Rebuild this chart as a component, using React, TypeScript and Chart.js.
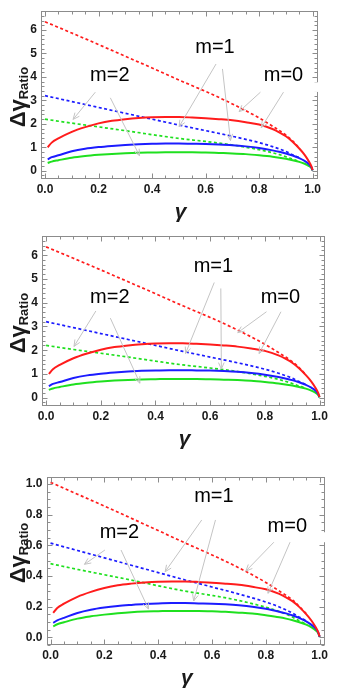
import React, { useEffect, useRef } from "react";
import { Chart, registerables } from "chart.js";
Chart.register(...registerables);

// ---------- data ----------
const GAMMA_SOLID = [0.01, 0.025, 0.05, 0.1, 0.15, 0.2, 0.25, 0.3, 0.35, 0.4, 0.45, 0.5, 0.55, 0.6, 0.65, 0.7, 0.75, 0.8, 0.85, 0.875, 0.9, 0.925, 0.95, 0.97, 0.985, 0.995, 1.0];
const GAMMA_DASHED = [0, 0.1, 0.2, 0.3, 0.4, 0.5, 0.6, 0.7, 0.8, 0.85, 0.9, 0.925, 0.95];

// panels 1 and 2
const RED_SOLID_A = [1.0, 1.2, 1.38, 1.66, 1.86, 2.02, 2.13, 2.2, 2.25, 2.28, 2.29, 2.29, 2.27, 2.24, 2.2, 2.15, 2.07, 1.97, 1.78, 1.64, 1.47, 1.24, 0.95, 0.68, 0.42, 0.2, 0.03];
const BLUE_SOLID_A = [0.49, 0.58, 0.66, 0.83, 0.94, 1.01, 1.06, 1.1, 1.13, 1.15, 1.16, 1.16, 1.15, 1.14, 1.12, 1.09, 1.04, 0.97, 0.87, 0.81, 0.74, 0.65, 0.54, 0.42, 0.3, 0.16, 0.02];
const GREEN_SOLID_A = [0.33, 0.39, 0.45, 0.56, 0.63, 0.68, 0.72, 0.75, 0.77, 0.78, 0.79, 0.79, 0.79, 0.78, 0.76, 0.74, 0.71, 0.66, 0.6, 0.56, 0.51, 0.45, 0.38, 0.3, 0.21, 0.12, 0.01];
const RED_DASHED_A = [6.35, 5.87, 5.38, 4.88, 4.38, 3.87, 3.38, 2.85, 2.25, 1.9, 1.52, 1.27, 0.97];
const BLUE_DASHED_A = [3.2, 2.95, 2.7, 2.45, 2.2, 1.95, 1.71, 1.47, 1.2, 1.03, 0.82, 0.68, 0.56];
const GREEN_DASHED_A = [2.2, 2.03, 1.87, 1.71, 1.54, 1.38, 1.25, 1.1, 0.9, 0.77, 0.6, 0.49, 0.4];

// panel 3
const RED_SOLID_B = [0.159, 0.191, 0.219, 0.264, 0.296, 0.321, 0.339, 0.35, 0.358, 0.363, 0.364, 0.364, 0.361, 0.356, 0.35, 0.342, 0.329, 0.313, 0.283, 0.261, 0.234, 0.197, 0.151, 0.108, 0.067, 0.032, 0.005];
const BLUE_SOLID_B = [0.094, 0.111, 0.127, 0.159, 0.18, 0.194, 0.204, 0.211, 0.217, 0.221, 0.223, 0.223, 0.221, 0.219, 0.215, 0.209, 0.2, 0.186, 0.167, 0.156, 0.142, 0.125, 0.104, 0.081, 0.058, 0.031, 0.004];
const GREEN_SOLID_B = [0.072, 0.085, 0.098, 0.122, 0.137, 0.148, 0.157, 0.164, 0.168, 0.17, 0.172, 0.172, 0.172, 0.17, 0.166, 0.161, 0.155, 0.144, 0.131, 0.122, 0.111, 0.098, 0.083, 0.065, 0.046, 0.026, 0.002];
const RED_DASHED_B = [1.01, 0.933, 0.855, 0.776, 0.696, 0.615, 0.537, 0.453, 0.358, 0.302, 0.242, 0.2, 0.154];
const BLUE_DASHED_B = [0.614, 0.566, 0.518, 0.47, 0.422, 0.374, 0.328, 0.282, 0.23, 0.198, 0.157, 0.131, 0.108];
const GREEN_DASHED_B = [0.48, 0.443, 0.408, 0.373, 0.336, 0.301, 0.273, 0.24, 0.196, 0.168, 0.131, 0.107, 0.087];

// ticks
const X_TICKS = [0, 0.2, 0.4, 0.6, 0.8, 1.0];
const X_TICK_LABELS = ["0.0", "0.2", "0.4", "0.6", "0.8", "1.0"];
const Y_TICKS_A = [0, 1, 2, 3, 4, 5, 6];
const Y_TICK_LABELS_A = ["0", "1", "2", "3", "4", "5", "6"];
const Y_TICKS_B = [0, 0.2, 0.4, 0.6, 0.8, 1.0];
const Y_TICK_LABELS_B = ["0.0", "0.2", "0.4", "0.6", "0.8", "1.0"];

// annotations: [text, x, y]
const LABELS_1 = [["m=1", 0.635, 5.25], ["m=2", 0.242, 4.07], ["m=0", 0.891, 4.07]];
const LABELS_2 = [["m=1", 0.612, 5.53], ["m=2", 0.233, 4.22], ["m=0", 0.857, 4.24]];
const LABELS_3 = [["m=1", 0.607, 0.917], ["m=2", 0.256, 0.685], ["m=0", 0.88, 0.721]];
// arrows: [x1, y1, x2, y2]
const ARROWS_1 = [[0.188, 3.35, 0.105, 2.19], [0.244, 3.11, 0.353, 0.645], [0.639, 4.55, 0.501, 1.88], [0.663, 4.34, 0.693, 1.29], [0.805, 3.35, 0.725, 2.52], [0.891, 3.35, 0.808, 1.84]];
const ARROWS_2 = [[0.182, 3.65, 0.102, 2.16], [0.235, 3.35, 0.343, 0.61], [0.615, 4.85, 0.51, 1.86], [0.639, 4.6, 0.641, 1.21], [0.806, 3.62, 0.701, 2.74], [0.859, 3.62, 0.779, 1.86]];
const ARROWS_3 = [[0.202, 0.569, 0.126, 0.476], [0.262, 0.569, 0.364, 0.185], [0.562, 0.765, 0.426, 0.428], [0.613, 0.765, 0.532, 0.237], [0.83, 0.62, 0.726, 0.432], [0.89, 0.62, 0.808, 0.287]];
// gaps in right frame edge (y-range)
const GAP_1 = [3.36, 3.77];
const GAP_3 = [0.62, 0.685];

const RED = "#ff1c1c";
const BLUE = "#1c1cff";
const GREEN = "#1fe01f";
const FONT = "'Liberation Sans', Arial, sans-serif";

type Spec = {
  top: number; height: number;
  left: number; right: number; areaTop: number; areaBottom: number;
  yMin: number; yMax: number; yTicks: number[]; yLabels: string[]; yMinor: number;
  series: number[][]; labels: any[]; arrows: number[][]; gap: number[] | null;
  yTitleShift: number;
};

function makeDecor(spec: Spec) {
  return {
    id: "decor",
    afterDraw(chart: any) {
      const ctx = chart.ctx as CanvasRenderingContext2D;
      const a = chart.chartArea;
      const xs = chart.scales.x;
      const ys = chart.scales.y;
      const L = Math.round(a.left) + 0.5, R = Math.round(a.right) - 0.5;
      const T = Math.round(a.top) + 0.5, B = Math.round(a.bottom) - 0.5;
      ctx.save();
      // frame
      ctx.strokeStyle = "#8c8c8c";
      ctx.lineWidth = 1;
      ctx.strokeRect(L, T, R - L, B - T);
      // ticks
      ctx.beginPath();
      const xMinorStep = 0.05;
      for (let k = Math.ceil(xs.min / xMinorStep); k * xMinorStep <= xs.max + 1e-9; k++) {
        const v = k * xMinorStep;
        const major = Math.abs(v / 0.2 - Math.round(v / 0.2)) < 1e-6;
        const len = major ? 5 : 3;
        const px = Math.round(xs.getPixelForValue(v)) + 0.5;
        ctx.moveTo(px, B); ctx.lineTo(px, B - len);
        ctx.moveTo(px, T); ctx.lineTo(px, T + len);
      }
      const yMajor = spec.yTicks[1] - spec.yTicks[0];
      for (let k = Math.ceil(ys.min / spec.yMinor); k * spec.yMinor <= ys.max + 1e-9; k++) {
        const v = k * spec.yMinor;
        const major = Math.abs(v / yMajor - Math.round(v / yMajor)) < 1e-6;
        const len = major ? 5 : 3;
        const py = Math.round(ys.getPixelForValue(v)) + 0.5;
        ctx.moveTo(L, py); ctx.lineTo(L + len, py);
        ctx.moveTo(R, py); ctx.lineTo(R - len, py);
      }
      ctx.stroke();
      if (spec.gap) {
        const g1 = ys.getPixelForValue(spec.gap[1]);
        const g2 = ys.getPixelForValue(spec.gap[0]);
        ctx.fillStyle = "#ffffff";
        ctx.fillRect(R - 6, g1, 10, g2 - g1);
      }
      // arrows
      ctx.strokeStyle = "#c4c4c4";
      ctx.lineWidth = 1;
      for (const [x1, y1, x2, y2] of spec.arrows) {
        const p1x = xs.getPixelForValue(x1), p1y = ys.getPixelForValue(y1);
        const p2x = xs.getPixelForValue(x2), p2y = ys.getPixelForValue(y2);
        const ang = Math.atan2(p2y - p1y, p2x - p1x);
        ctx.beginPath();
        ctx.moveTo(p1x, p1y); ctx.lineTo(p2x, p2y);
        const hl = 7, ha = 0.42;
        ctx.moveTo(p2x - hl * Math.cos(ang - ha), p2y - hl * Math.sin(ang - ha));
        ctx.lineTo(p2x, p2y);
        ctx.lineTo(p2x - hl * Math.cos(ang + ha), p2y - hl * Math.sin(ang + ha));
        ctx.stroke();
      }
      // labels
      ctx.fillStyle = "#000";
      ctx.font = `20px ${FONT}`;
      ctx.textAlign = "center";
      ctx.textBaseline = "middle";
      for (const [t, x, y] of spec.labels) {
        ctx.fillText(t, xs.getPixelForValue(x), ys.getPixelForValue(y));
      }
      // x title
      ctx.font = `italic bold 21px ${FONT}`;
      ctx.textBaseline = "alphabetic";
      ctx.fillStyle = "#1a1a1a";
      ctx.fillText("γ", (a.left + a.right) / 2 + 1, a.bottom + 39);
      // y title
      const cy = (a.top + a.bottom) / 2 + spec.yTitleShift;
      ctx.translate(25, cy);
      ctx.rotate(-Math.PI / 2);
      ctx.font = `bold 22px ${FONT}`;
      const w1 = ctx.measureText("Δγ").width;
      ctx.font = `bold 13px ${FONT}`;
      const w2 = ctx.measureText("Ratio").width;
      const start = -(w1 + w2) / 2;
      ctx.textAlign = "left";
      ctx.font = `bold 22px ${FONT}`;
      ctx.fillText("Δγ", start, 0);
      ctx.font = `bold 13px ${FONT}`;
      ctx.fillText("Ratio", start + w1, 3);
      ctx.restore();
    },
  };
}

function Panel({ spec }: { spec: Spec }) {
  const ref = useRef<HTMLCanvasElement | null>(null);
  useEffect(() => {
    const canvas = ref.current!;
    const [rs, bs, gs, rd, bd, gd] = spec.series;
    const solid = (arr: number[], c: string) => ({
      data: GAMMA_SOLID.map((g, i) => ({ x: g, y: arr[i] })),
      borderColor: c, borderWidth: 2, pointRadius: 0, fill: false,
      cubicInterpolationMode: "monotone" as const,
    });
    const dashed = (arr: number[], c: string) => ({
      data: GAMMA_DASHED.map((g, i) => ({ x: g, y: arr[i] })),
      borderColor: c, borderWidth: 1.7, pointRadius: 0, fill: false,
      borderDash: [3, 2.5], cubicInterpolationMode: "monotone" as const,
    });
    const W = 349;
    const chart = new Chart(canvas, {
      type: "line",
      data: {
        datasets: [solid(rs, RED), solid(bs, BLUE), solid(gs, GREEN), dashed(rd, RED), dashed(bd, BLUE), dashed(gd, GREEN)],
      },
      options: {
        responsive: false,
        animation: false,
        events: [],
        layout: { padding: { left: 0, right: W - spec.right, top: spec.areaTop, bottom: 0 } },
        plugins: { legend: { display: false }, tooltip: { enabled: false } },
        scales: {
          x: {
            type: "linear", min: -0.015, max: 1.02,
            grid: { display: false, drawTicks: false, tickLength: 0 }, border: { display: false },
            ticks: {
              autoSkip: false, maxRotation: 0, padding: 3, color: "#1a1a1a",
              font: { family: FONT, size: 12, weight: "bold" },
              callback: (_v: any, i: number) => X_TICK_LABELS[i],
            },
            afterBuildTicks: (s: any) => { s.ticks = X_TICKS.map((v) => ({ value: v })); },
            afterFit: (s: any) => { s.height = spec.height - spec.areaBottom; },
          },
          y: {
            type: "linear", min: spec.yMin, max: spec.yMax,
            grid: { display: false, drawTicks: false, tickLength: 0 }, border: { display: false },
            ticks: {
              autoSkip: false, padding: 4, color: "#1a1a1a",
              font: { family: FONT, size: 12, weight: "bold" },
              callback: (_v: any, i: number) => spec.yLabels[i],
            },
            afterBuildTicks: (s: any) => { s.ticks = spec.yTicks.map((v) => ({ value: v })); },
            afterFit: (s: any) => { s.width = spec.left; },
          },
        },
      } as any,
      plugins: [makeDecor(spec)],
    });
    return () => chart.destroy();
  }, [spec]);
  return (
    <canvas
      ref={ref}
      width={349}
      height={spec.height}
      style={{ position: "absolute", left: 0, top: spec.top, width: 349, height: spec.height }}
    />
  );
}

const SPECS: Spec[] = [
  {
    top: 0, height: 225, left: 41, right: 318, areaTop: 5, areaBottom: 179,
    yMin: -0.35, yMax: 6.8, yTicks: Y_TICKS_A, yLabels: Y_TICK_LABELS_A, yMinor: 0.2,
    series: [RED_SOLID_A, BLUE_SOLID_A, GREEN_SOLID_A, RED_DASHED_A, BLUE_DASHED_A, GREEN_DASHED_A],
    labels: LABELS_1, arrows: ARROWS_1, gap: GAP_1, yTitleShift: 2,
  },
  {
    top: 225, height: 230, left: 42, right: 325, areaTop: 5, areaBottom: 181,
    yMin: -0.35, yMax: 6.8, yTicks: Y_TICKS_A, yLabels: Y_TICK_LABELS_A, yMinor: 0.2,
    series: [RED_SOLID_A, BLUE_SOLID_A, GREEN_SOLID_A, RED_DASHED_A, BLUE_DASHED_A, GREEN_DASHED_A],
    labels: LABELS_2, arrows: ARROWS_2, gap: null, yTitleShift: 2,
  },
  {
    top: 455, height: 234, left: 46.5, right: 325, areaTop: 22, areaBottom: 190,
    yMin: -0.05, yMax: 1.045, yTicks: Y_TICKS_B, yLabels: Y_TICK_LABELS_B, yMinor: 0.05,
    series: [RED_SOLID_B, BLUE_SOLID_B, GREEN_SOLID_B, RED_DASHED_B, BLUE_DASHED_B, GREEN_DASHED_B],
    labels: LABELS_3, arrows: ARROWS_3, gap: GAP_3, yTitleShift: -8,
  },
];

export default function App() {
  return (
    <div style={{ position: "absolute", left: 0, top: 0, width: 349, height: 689, background: "#fff", overflow: "hidden" }}>
      {SPECS.map((s, i) => (
        <Panel key={i} spec={s} />
      ))}
    </div>
  );
}
